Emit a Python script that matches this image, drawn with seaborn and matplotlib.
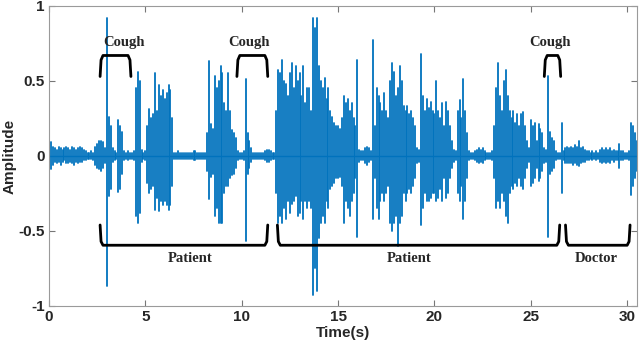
"""
Cough / speech waveform with speaker annotations.
"""

import numpy as np
import pandas as pd
import matplotlib
matplotlib.use("Agg")
import matplotlib.pyplot as plt
import seaborn as sns

# Envelope of the recording, read every 0.1 s (upper and lower peak)
env_hi = [
    0.04, 0.09, 0.06, 0.05, 0.04, 0.06, 0.05, 0.04, 0.05, 0.06,
    0.05, 0.04, 0.06, 0.05, 0.04, 0.05, 0.06, 0.05, 0.04, 0.03,
    0.02, 0.02, 0.03, 0.02, 0.06, 0.08, 0.10, 0.10, 0.09, 0.05,
    0.92, 0.26, 0.20, 0.05, 0.03, 0.02, 0.24, 0.20, 0.16, 0.03,
    0.02, 0.03, 0.02, 0.02, 0.03, 0.45, 0.56, 0.50, 0.04, 0.02,
    0.03, 0.20, 0.31, 0.25, 0.28, 0.55, 0.30, 0.47, 0.40, 0.44,
    0.38, 0.42, 0.47, 0.44, 0.25, 0.02, 0.02, 0.03, 0.02, 0.02,
    0.02, 0.02, 0.02, 0.02, 0.02, 0.03, 0.03, 0.02, 0.02, 0.02,
    0.02, 0.02, 0.15, 0.63, 0.21, 0.18, 0.53, 0.45, 0.50, 0.60,
    0.55, 0.35, 0.30, 0.55, 0.30, 0.17, 0.15, 0.12, 0.03, 0.02,
    0.02, 0.03, 0.51, 0.15, 0.10, 0.05, 0.02, 0.02, 0.02, 0.02,
    0.02, 0.02, 0.03, 0.04, 0.04, 0.03, 0.02, 0.02, 0.30, 0.57,
    0.55, 0.64, 0.50, 0.48, 0.40, 0.55, 0.62, 0.45, 0.60, 0.50,
    0.55, 0.40, 0.60, 0.35, 0.45, 0.45, 0.30, 0.92, 0.85, 0.92,
    0.60, 0.50, 0.45, 0.52, 0.38, 0.45, 0.30, 0.26, 0.22, 0.20,
    0.20, 0.18, 0.25, 0.40, 0.35, 0.38, 0.30, 0.35, 0.25, 0.20,
    0.64, 0.04, 0.03, 0.03, 0.05, 0.06, 0.05, 0.03, 0.77, 0.20,
    0.45, 0.40, 0.35, 0.30, 0.42, 0.30, 0.25, 0.50, 0.62, 0.56,
    0.40, 0.45, 0.60, 0.50, 0.33, 0.30, 0.33, 0.28, 0.30, 0.25,
    0.20, 0.05, 0.04, 0.68, 0.40, 0.30, 0.38, 0.32, 0.36, 0.30,
    0.28, 0.50, 0.30, 0.25, 0.35, 0.20, 0.36, 0.30, 0.20, 0.10,
    0.04, 0.03, 0.30, 0.37, 0.25, 0.51, 0.30, 0.15, 0.03, 0.02,
    0.02, 0.03, 0.04, 0.05, 0.04, 0.05, 0.03, 0.02, 0.02, 0.02,
    0.03, 0.20, 0.45, 0.62, 0.40, 0.30, 0.50, 0.57, 0.40, 0.30,
    0.25, 0.30, 0.22, 0.28, 0.20, 0.28, 0.29, 0.20, 0.10, 0.05,
    0.24, 0.20, 0.22, 0.10, 0.21, 0.18, 0.15, 0.05, 0.04, 0.53,
    0.16, 0.12, 0.10, 0.03, 0.02, 0.02, 0.22, 0.03, 0.05, 0.06,
    0.05, 0.06, 0.05, 0.07, 0.06, 0.10, 0.05, 0.06, 0.04, 0.03,
    0.03, 0.02, 0.03, 0.02, 0.03, 0.02, 0.04, 0.05, 0.04, 0.05,
    0.04, 0.05, 0.03, 0.04, 0.03, 0.03, 0.08, 0.03, 0.03, 0.02,
    0.02, 0.03, 0.22, 0.20, 0.15, 0.10,
]
env_lo = [
    -0.03, -0.09, -0.06, -0.04, -0.05, -0.04, -0.06, -0.04, -0.03, -0.05,
    -0.05, -0.04, -0.05, -0.06, -0.04, -0.05, -0.04, -0.04, -0.03, -0.03,
    -0.02, -0.02, -0.02, -0.03, -0.06, -0.08, -0.09, -0.10, -0.08, -0.05,
    -0.87, -0.27, -0.22, -0.04, -0.03, -0.02, -0.24, -0.22, -0.12, -0.03,
    -0.02, -0.03, -0.02, -0.02, -0.03, -0.40, -0.45, -0.38, -0.04, -0.02,
    -0.03, -0.18, -0.25, -0.22, -0.20, -0.36, -0.28, -0.37, -0.30, -0.33,
    -0.30, -0.33, -0.36, -0.33, -0.20, -0.02, -0.02, -0.02, -0.02, -0.02,
    -0.02, -0.02, -0.02, -0.02, -0.02, -0.03, -0.03, -0.02, -0.02, -0.02,
    -0.02, -0.02, -0.10, -0.29, -0.14, -0.12, -0.40, -0.35, -0.45, -0.45,
    -0.45, -0.25, -0.20, -0.20, -0.15, -0.13, -0.12, -0.08, -0.03, -0.02,
    -0.02, -0.03, -0.57, -0.12, -0.08, -0.04, -0.02, -0.02, -0.02, -0.02,
    -0.02, -0.02, -0.03, -0.04, -0.04, -0.03, -0.02, -0.02, -0.25, -0.45,
    -0.40, -0.45, -0.35, -0.42, -0.30, -0.38, -0.32, -0.30, -0.27, -0.40,
    -0.38, -0.30, -0.42, -0.30, -0.35, -0.30, -0.35, -0.93, -0.75, -0.90,
    -0.55, -0.45, -0.40, -0.45, -0.30, -0.35, -0.22, -0.20, -0.18, -0.15,
    -0.15, -0.14, -0.20, -0.45, -0.30, -0.35, -0.40, -0.30, -0.25, -0.15,
    -0.54, -0.04, -0.03, -0.03, -0.05, -0.06, -0.04, -0.03, -0.42, -0.15,
    -0.35, -0.42, -0.30, -0.25, -0.30, -0.25, -0.20, -0.45, -0.50, -0.45,
    -0.40, -0.60, -0.45, -0.40, -0.25, -0.30, -0.25, -0.22, -0.25, -0.20,
    -0.15, -0.05, -0.04, -0.46, -0.35, -0.25, -0.30, -0.30, -0.28, -0.25,
    -0.25, -0.30, -0.28, -0.22, -0.30, -0.15, -0.28, -0.25, -0.15, -0.08,
    -0.04, -0.03, -0.25, -0.30, -0.20, -0.42, -0.30, -0.15, -0.03, -0.02,
    -0.02, -0.03, -0.04, -0.05, -0.04, -0.05, -0.03, -0.02, -0.02, -0.02,
    -0.03, -0.15, -0.35, -0.30, -0.35, -0.25, -0.30, -0.40, -0.45, -0.25,
    -0.20, -0.22, -0.18, -0.20, -0.15, -0.20, -0.22, -0.15, -0.08, -0.04,
    -0.20, -0.18, -0.15, -0.08, -0.17, -0.15, -0.10, -0.05, -0.04, -0.54,
    -0.12, -0.10, -0.08, -0.03, -0.02, -0.02, -0.25, -0.03, -0.05, -0.05,
    -0.05, -0.05, -0.06, -0.05, -0.06, -0.07, -0.05, -0.04, -0.04, -0.03,
    -0.03, -0.02, -0.03, -0.02, -0.03, -0.02, -0.04, -0.05, -0.04, -0.05,
    -0.04, -0.05, -0.03, -0.04, -0.03, -0.03, -0.08, -0.03, -0.03, -0.02,
    -0.02, -0.03, -0.26, -0.20, -0.15, -0.10,
]
env_step = 0.1

# Annotation spans (seconds)
cough_spans = [(2.65, 4.25), (9.75, 11.35), (25.7, 26.55)]
cough_label_x = [3.9, 10.4, 26.0]
speaker_spans = [(2.65, 11.35), (11.85, 26.5), (26.8, 30.15)]
speaker_labels = ["Patient", "Patient", "Doctor"]
speaker_label_x = [7.3, 18.7, 28.4]

x_ticks = [0, 5, 10, 15, 20, 25, 30]
y_ticks = [-1, -0.5, 0, 0.5, 1]

# Waveform: one vertical stroke per sample, from upper to lower peak
t = np.round(np.arange(len(env_hi)) * env_step, 2)
df = pd.DataFrame({
    "Time": np.repeat(t, 2),
    "Amplitude": np.column_stack([env_hi, env_lo]).ravel(),
    "sample": np.repeat(np.arange(len(t)), 2),
})

sns.set_style("ticks")
plt.rcParams["font.family"] = ["Liberation Sans", "DejaVu Sans"]

fig = plt.figure(figsize=(6.4, 3.52), dpi=100)
ax = fig.add_axes([0.0766, 0.1307, 0.9184, 0.8523])

ax.axhline(0, color="#0072BD", linewidth=1.0)
sns.lineplot(data=df, x="Time", y="Amplitude", units="sample", estimator=None,
             color="#0072BD", linewidth=1.3, ax=ax)

ax.set_xlim(0, 30.5)
ax.set_ylim(-1, 1)
ax.set_xticks(x_ticks)
ax.set_yticks(y_ticks)
ax.set_xticklabels([str(v) for v in x_ticks], fontweight="bold", fontsize=11)
ax.set_yticklabels(["-1", "-0.5", "0", "0.5", "1"], fontweight="bold", fontsize=11)
ax.set_xlabel("Time(s)", fontweight="bold", fontsize=11, labelpad=1)
ax.set_ylabel("Amplitude", fontweight="bold", fontsize=11, labelpad=1)
ax.tick_params(direction="in", length=4, width=0.8, color="#777777",
               top=True, right=True, pad=3)
for s in ax.spines.values():
    s.set_color("#9a9a9a")
    s.set_linewidth(0.8)

serif = ["Liberation Serif", "DejaVu Serif"]
bk = dict(color="black", linewidth=2.0, solid_joinstyle="round",
          solid_capstyle="round", clip_on=False)

# Cough brackets (top)
for (a, b), lx in zip(cough_spans, cough_label_x):
    ax.plot([a, a + 0.05, a + 0.15, b - 0.15, b - 0.05, b],
            [0.53, 0.64, 0.67, 0.67, 0.64, 0.53], **bk)
    ax.text(lx, 0.755, "Cough", ha="center", va="center", family=serif,
            fontweight="bold", fontsize=10.5)

# Speaker brackets (bottom)
for (a, b), lab, lx in zip(speaker_spans, speaker_labels, speaker_label_x):
    ax.plot([a, a + 0.05, a + 0.15, b - 0.15, b - 0.05, b],
            [-0.46, -0.57, -0.595, -0.595, -0.57, -0.46], **bk)
    ax.text(lx, -0.685, lab, ha="center", va="center", family=serif,
            fontweight="bold", fontsize=10.5)

fig.savefig("out.png", dpi=100)
